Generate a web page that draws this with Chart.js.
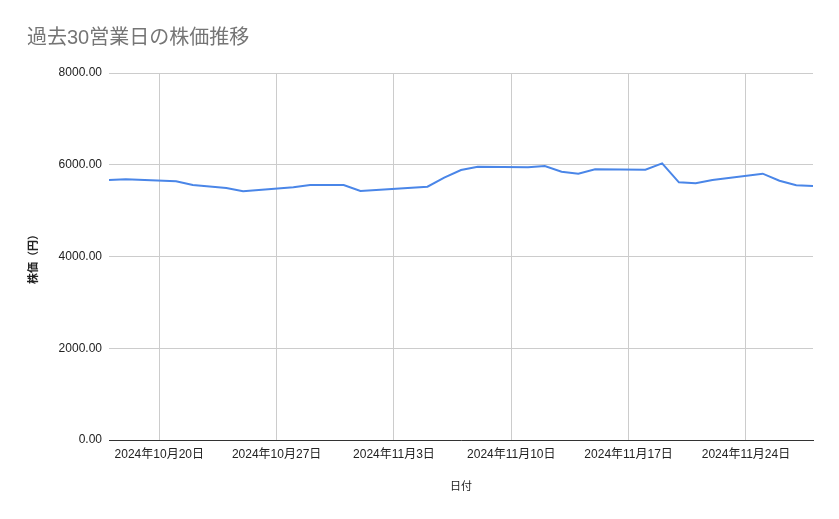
<!DOCTYPE html>
<html>
<head>
<meta charset="utf-8">
<script src="https://cdn.jsdelivr.net/npm/chart.js@4"></script>
<style>
html,body{margin:0;padding:0;background:#fff;}
#wrap{width:839px;height:519px;position:relative;}
</style>
</head>
<body>
<div id="wrap"><canvas id="c"></canvas></div>
<script>
const dates = ['2024-10-17','2024-10-18','2024-10-21','2024-10-22','2024-10-23','2024-10-24','2024-10-25',
  '2024-10-28','2024-10-29','2024-10-30','2024-10-31','2024-11-01','2024-11-05','2024-11-06','2024-11-07',
  '2024-11-08','2024-11-11','2024-11-12','2024-11-13','2024-11-14','2024-11-15','2024-11-18','2024-11-19',
  '2024-11-20','2024-11-21','2024-11-22','2024-11-25','2024-11-26','2024-11-27','2024-11-28'];
const prices = [5670,5685,5640,5558,5525,5493,5424,
  5512,5559,5560,5559,5428,5522,5720,5886,
  5958,5945,5973,5849,5805,5900,5893,6031,
  5617,5595,5667,5805,5652,5552,5537];
const tickDates = ['2024-10-20','2024-10-27','2024-11-03','2024-11-10','2024-11-17','2024-11-24'];
const yTicks = [0,2000,4000,6000,8000];

const DAY = 86400000;
function dayNum(s){ const p = s.split('-').map(Number); return Date.UTC(p[0],p[1]-1,p[2]) / DAY; }
function label(n){ const d = new Date(n*DAY); return d.getUTCFullYear()+'年'+(d.getUTCMonth()+1)+'月'+d.getUTCDate()+'日'; }

const points = dates.map((d,i)=>({x:dayNum(d), y:prices[i]}));
const FONT = "'Liberation Sans', Arial, 'Noto Sans CJK JP', sans-serif";

new Chart(document.getElementById('c'), {
  type: 'line',
  data: { datasets: [{
    data: points,
    borderColor: '#4a86e8',
    borderWidth: 2,
    pointRadius: 0,
    tension: 0,
    fill: false
  }]},
  options: {
    responsive: true,
    maintainAspectRatio: false,
    animation: false,
    layout: { padding: { left: 27, right: 26, top: 17, bottom: 20 } },
    plugins: {
      legend: { display: false },
      tooltip: { enabled: false },
      title: {
        display: true,
        text: '過去30営業日の株価推移',
        align: 'start',
        color: '#757575',
        font: { family: FONT, size: 20, weight: 'normal' },
        padding: { top: 9.5, bottom: 22.5 }
      }
    },
    scales: {
      x: {
        type: 'linear',
        min: dayNum(dates[0]),
        max: dayNum(dates[dates.length-1]),
        afterBuildTicks: s => { s.ticks = tickDates.map(t=>({value: dayNum(t)})); },
        afterFit: s => { s.height = 59; },
        grid: { color: '#cccccc', drawTicks: false },
        border: { display: true, color: '#333333', width: 1 },
        ticks: { color: '#222222', font: { family: FONT, size: 12 }, padding: 7, maxRotation: 0, autoSkip: false,
          callback: v => label(v) },
        title: { display: true, text: '日付', color: '#222222', font: { family: FONT, size: 11 }, padding: { top: 0, bottom: 5 } }
      },
      y: {
        min: 0,
        max: 8000,
        afterBuildTicks: s => { s.ticks = yTicks.map(v=>({value:v})); },
        afterFit: s => { s.width = 82; },
        grid: { color: '#cccccc', drawTicks: false },
        border: { display: false },
        ticks: { color: '#222222', font: { family: FONT, size: 12 }, padding: 7,
          callback: v => Number(v).toFixed(2) },
        title: { display: true, text: '株価（円）', color: '#222222', font: { family: FONT, size: 11, weight: 'bold' }, padding: { top: 0, bottom: 0 } }
      }
    }
  }
});
</script>
</body>
</html>
